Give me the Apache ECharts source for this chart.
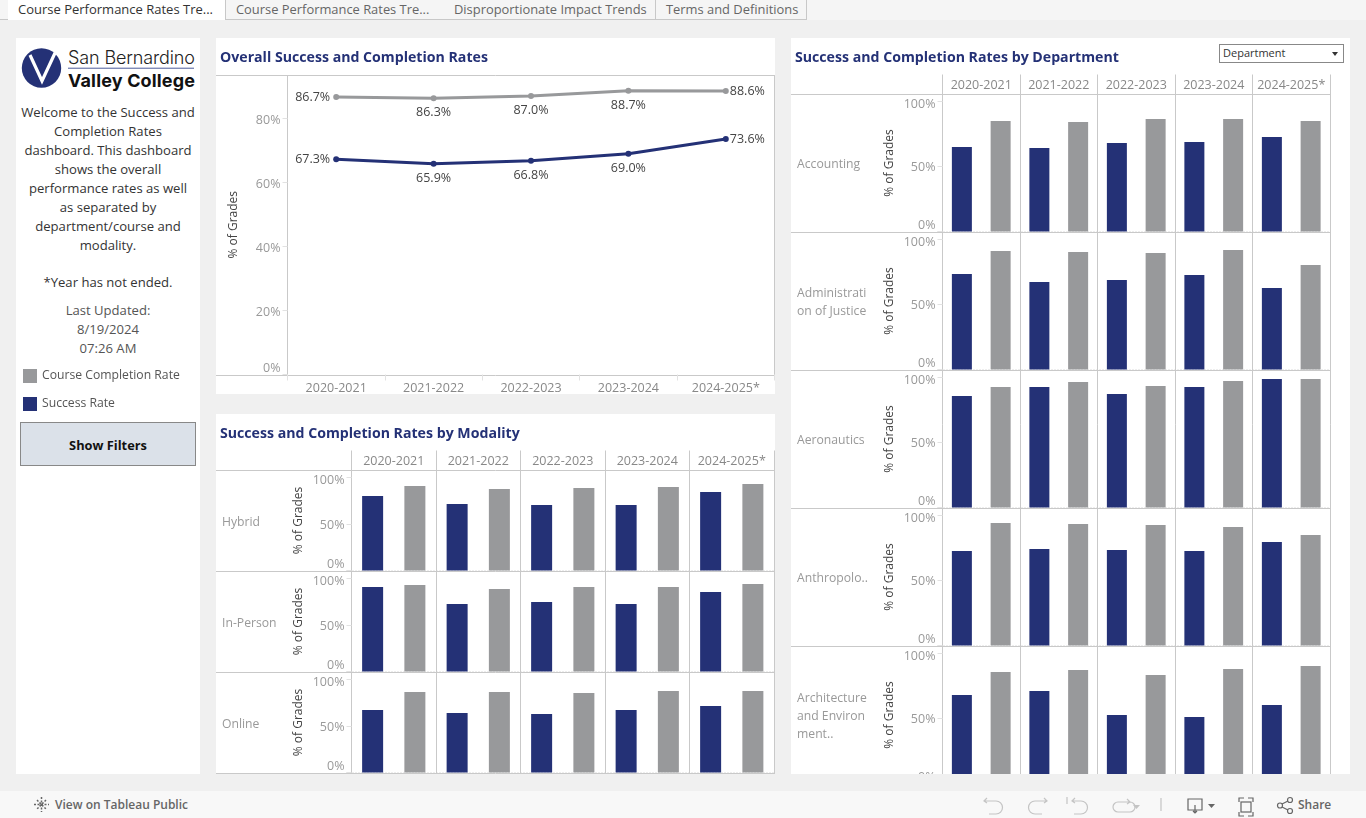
<!DOCTYPE html>
<html><head><meta charset="utf-8">
<script src="https://cdn.jsdelivr.net/npm/echarts@6/dist/echarts.min.js"></script>
<style>
html,body{margin:0;padding:0;width:1366px;height:818px;overflow:hidden;background:#f0f0f0;font-family:"Open Sans",sans-serif;color:#333}
.abs{position:absolute}
.panel{position:absolute;background:#fff}
#chart{position:absolute;left:0;top:0;width:1366px;height:818px}
.tab{position:absolute;top:0;height:19px;line-height:19px;font-size:12.9px;color:#666;background:#f5f5f5;border-right:1px solid #c8c8c8;border-bottom:1px solid #c8c8c8;padding-left:10px;box-sizing:content-box;white-space:nowrap;overflow:hidden}
#side{position:absolute;left:16px;top:103px;width:184px;text-align:center;font-size:13.1px;line-height:19px;color:#333;white-space:nowrap}
#btn{position:absolute;left:20px;top:422px;width:174px;height:42px;background:#dbe1e9;border:1px solid #888;text-align:center;line-height:45px;font-size:12.8px;font-weight:700;color:#111}
#dd{position:absolute;left:1219px;top:44px;width:123px;height:17px;border:1px solid #888;background:#fff;font-size:11px;line-height:16px;color:#333;text-indent:3px}
#dd i{position:absolute;right:5px;top:7px;width:0;height:0;border-left:3.5px solid transparent;border-right:3.5px solid transparent;border-top:4px solid #333}
#cover{position:absolute;left:0;top:774px;width:1366px;height:17px;background:#f0f0f0}
#foot{position:absolute;left:0;top:791px;width:1366px;height:27px;background:#f8f8f8;font-size:12px;color:#666;font-weight:600}
</style></head><body>
<div class="panel" style="left:16px;top:38px;width:184px;height:736px"></div>
<div class="panel" style="left:216px;top:38px;width:559px;height:356px"></div>
<div class="panel" style="left:216px;top:414px;width:559px;height:360px"></div>
<div class="panel" style="left:791px;top:38px;width:559px;height:736px"></div>
<div class="abs" style="left:0;top:0;width:1366px;height:20px;background:#f5f5f5;border-bottom:0"></div>
<div class="tab" style="left:226px;width:208px">Course Performance Rates Tre...</div>
<div class="tab" style="left:444px;width:201px">Disproportionate Impact Trends</div>
<div class="tab" style="left:656px;width:140px;">Terms and Definitions</div>
<div class="abs" style="left:0;top:19px;width:8px;height:1px;background:#c8c8c8"></div>
<div class="abs" style="left:8px;top:0;width:217px;height:20px;background:#fff;border-right:1px solid #c8c8c8;font-size:13px;line-height:19px;color:#333;text-indent:10px;white-space:nowrap;overflow:hidden">Course Performance Rates Tre...</div>
<svg class="abs" style="left:16px;top:38px" width="184" height="60" viewBox="16 38 184 60">
<circle cx="41.5" cy="68" r="19.7" fill="#243176"/>
<path d="M30 55 L42 81 L55 53" fill="none" stroke="#fff" stroke-width="3.2"/>
<text x="68" y="64" font-family="Inter" font-weight="300" font-size="18" textLength="127" lengthAdjust="spacing" fill="#222">San Bernardino</text>
<rect x="68" y="67.7" width="126" height="1" fill="#4a5a9a"/>
<text x="68" y="86.500" font-family="Inter" font-weight="700" font-size="18" textLength="127" lengthAdjust="spacing" fill="#111">Valley College</text>
</svg>
<div id="side">Welcome to the Success and<br>Completion Rates<br>dashboard. This dashboard<br>shows the overall<br>performance rates as well<br>as separated by<br>department/course and<br>modality.<div style="height:18px"></div>*Year has not ended.<div style="height:9px"></div><span style="color:#555">Last Updated:<br>8/19/2024<br>07:26 AM</span></div>
<div id="btn">Show Filters</div>
<div id="chart"></div>
<div id="dd">Department<i></i></div>
<div id="cover"></div>
<div id="foot">
<svg class="abs" style="left:33px;top:5px" width="18" height="18" fill="none" stroke="#666" stroke-width="1.5"><path d="M8.5 1v15M1 8.5h15M4 4l9 9M13 4l-9 9" stroke-dasharray="2 1.5"/></svg>
<span class="abs" style="left:55px;top:5px;white-space:nowrap">View on Tableau Public</span>
<svg class="abs" style="left:980px;top:2px" width="370" height="24" fill="none" stroke="#c4c4c4" stroke-width="1.2">
<path d="M7 5l-3 3 3 2M4 8h12a6 6 0 0 1 0 13h-7"/>
<path d="M64 5l3 3-3 2M67 8H55a6 6 0 0 0 0 13h7"/>
<path d="M87 4v7M95 5l-3 3 3 2M92 8h9a6 6 0 0 1 0 13h-7"/>
<path d="M138 9h12a3 3 0 0 1 0 10h-12a3 3 0 0 1 0-10zM147 6l3 3-3 2"/>
<path d="M153 12h7l-3.500 4z" fill="#c4c4c4" stroke="none"/>
<path d="M181 5v13"/>
<g stroke="#666"><path d="M208 6h14v11h-14zM215 12v8M213 18l2 2 2-2" /><path d="M228 11h7l-3.500 4z" fill="#666" stroke="none"/>
<rect x="261" y="9" width="10" height="10"/><path d="M259 9V5h5M273 9V5h-5M259 19v4h5M273 19v4h-5"/>
<circle cx="310" cy="7" r="2.500"/><circle cx="300" cy="12.500" r="2.500"/><circle cx="310" cy="18" r="2.500"/><path d="M302 11l6-3M302 14l6 3"/></g>
</svg>
<span class="abs" style="left:1298px;top:5px">Share</span>
</div>
<script>
const years = ['2020-2021','2021-2022','2022-2023','2023-2024','2024-2025*'];
const overallCompletion = [86.7,86.3,87.0,88.7,88.6];
const overallSuccess = [67.3,65.9,66.8,69.0,73.6];
const modalityNames = ['Hybrid','In-Person','Online'];
const modalitySuccess = [[80,71.5,70.4,70.4,84.4],[90.9,72.6,74.7,72.6,85.5],[67.2,64,62.9,67.2,71.5]];
const modalityCompletion = [[90.9,87.6,88.7,89.8,93],[93,88.7,90.9,90.9,94],[86.6,86.6,85.5,87.6,87.6]];
const departmentNames = ['Accounting','Administrati\non of Justice','Aeronautics','Anthropolo..','Architecture\nand Environ\nment..'];
const departmentSuccess = [[65,64.2,68.1,68.8,72.7],[73.5,67.3,68.8,72.7,62.7],[85.8,92.7,87.3,92.7,98.8],[72.7,74.2,73.5,72.7,79.6],[68.1,71.2,52.7,51.2,60.4]];
const departmentCompletion = [[85,84.2,86.5,86.5,85],[91.2,90.4,89.6,91.9,80.4],[92.7,96.5,93.5,97.3,98.8],[94.2,93.5,92.7,91.2,85],[85.8,87.3,83.5,88.1,90.4]];

const NAVY='#243176', GRAY='#98999b', RULE='#c9c9c9', FONT='"Open Sans",sans-serif';
const SUCCESS='Success Rate', COMPLETION='Course Completion Rate';
const grids=[],xAxes=[],yAxes=[],series=[],graphics=[];
const axisText={color:'#999',fontSize:12.5,fontFamily:FONT};
function hline(x1,x2,y){graphics.push({type:'line',silent:true,shape:{x1,y1:y,x2,y2:y},style:{stroke:RULE,lineWidth:1}});}
function vline(x,y1,y2){graphics.push({type:'line',silent:true,shape:{x1:x,y1,x2:x,y2},style:{stroke:RULE,lineWidth:1}});}

// overall line chart
grids.push({left:287.5,top:75,width:487,height:299.5});
xAxes.push({type:'category',gridIndex:0,data:years,boundaryGap:true,axisLine:{show:false},
  axisTick:{show:true,length:6,lineStyle:{color:'#e2e2e2'}},axisLabel:{...axisText,color:'#888',margin:7.5,interval:0}});
yAxes.push({type:'value',gridIndex:0,min:0,max:93.6,interval:20,name:'% of Grades',nameLocation:'middle',nameGap:48,
  nameTextStyle:{color:'#444',fontSize:12,fontFamily:FONT},
  axisLine:{show:false},splitLine:{show:false},axisTick:{show:true,length:5,lineStyle:{color:'#e2e2e2'},customValues:[0,20,40,60,80]},
  axisLabel:{...axisText,customValues:[0,20,40,60,80],formatter:v=>v===0?'0%':'{s|'+v+'%}',rich:{s:{...axisText,padding:[4,0,0,0]}},verticalAlignMinLabel:'bottom',margin:7}});
function linePos(i){return i===0?'left':(i===years.length-1?'right':'bottom');}
[[COMPLETION,overallCompletion,GRAY],[SUCCESS,overallSuccess,NAVY]].forEach(([name,vals,color])=>{
  series.push({type:'line',name,xAxisIndex:0,yAxisIndex:0,symbol:'circle',symbolSize:6,z:5,
    lineStyle:{color,width:3},itemStyle:{color},
    data:vals.map((v,i)=>({value:v,label:{show:true,position:linePos(i),distance:i===0?3:(i===4?1:5),
      formatter:p=>p.value.toFixed(1)+'%',color:'#444',fontSize:12.5,fontFamily:FONT}}))});
});
hline(216,775,75.5);hline(216,775,375.5);vline(287.5,75,376);vline(774.5,75,376);

// small-multiple facets
function facets(o){
  o.rows.forEach((rowName,r)=>{
    const top=o.top+r*o.rowH;
    years.forEach((yr,c)=>{
      const idx=grids.length;
      grids.push({left:o.left+c*o.colW,top,width:o.colW,height:o.plotH});
      xAxes.push({type:'category',gridIndex:idx,data:[SUCCESS,COMPLETION],boundaryGap:true,position:r===0?'top':'bottom',
        name:r===0?yr:'',nameLocation:'middle',nameGap:2.5,nameTextStyle:{color:'#888',fontSize:12.5,fontFamily:FONT},
        axisLabel:{show:false},axisTick:{show:false},axisLine:{show:false}});
      const first=c===0;
      yAxes.push({type:'value',gridIndex:idx,min:0,max:o.max,interval:50,show:first,
        name:first?'% of Grades':'',nameLocation:'middle',nameGap:o.nameGap,
        nameTextStyle:{color:'#444',fontSize:12,fontFamily:FONT},
        axisLine:{show:false},splitLine:{show:false},
        axisTick:{show:first,length:5,lineStyle:{color:'#e2e2e2'},customValues:[0,50,100]},
        axisLabel:{show:first,...axisText,margin:7,customValues:[0,50,100],verticalAlignMinLabel:'bottom',
          formatter:v=>v===100?'{t|100%}':(v===50?'{m|50%}':'{z|0%}'),
          rich:{t:{...axisText,padding:[o.shift,0,0,0]},m:{...axisText,padding:[2,0,0,0]},z:{...axisText,padding:[0,0,0,0]}}}});
      series.push({type:'bar',name:SUCCESS,xAxisIndex:idx,yAxisIndex:idx,barWidth:o.barW,barGap:'-100%',
        itemStyle:{color:NAVY},data:[o.success[r][c],null]});
      series.push({type:'bar',name:COMPLETION,xAxisIndex:idx,yAxisIndex:idx,barWidth:o.barW,barGap:'-100%',
        itemStyle:{color:GRAY},data:[null,o.completion[r][c]]});
    });
    hline(o.panelL,o.lineR,Math.floor(top)+.5);
    // dotted zero line
    graphics.push({type:'line',silent:true,shape:{x1:o.left-5,y1:top+o.plotH+.5,x2:o.left+5*o.colW,y2:top+o.plotH+.5},
      style:{stroke:'#bbb',lineWidth:1,lineDash:[1,2]}});
    graphics.push({type:'text',silent:true,style:{x:o.panelL+6,y:top+o.plotH/2+o.labelDy,text:rowName,fill:'#999',
      font:'12.2px '+FONT,lineHeight:18,textVerticalAlign:'middle',verticalAlign:'middle'}});
  });
  for(let c=0;c<=5;c++) vline(Math.floor(o.left+c*o.colW)+.5,o.top-20,o.bottom);
  hline(o.panelL,o.lineR,o.top+o.rows.length*o.rowH);
}
facets({rows:modalityNames,success:modalitySuccess,completion:modalityCompletion,left:351.5,colW:84.5,top:470.5,rowH:101,plotH:100,max:107.5,
  barW:21,nameGap:47,panelL:216,lineR:775,bottom:774,shift:6,labelDy:2});
facets({rows:departmentNames,success:departmentSuccess,completion:departmentCompletion,left:942.5,colW:77.5,top:94.5,rowH:138,plotH:137,max:105.4,
  barW:20,nameGap:47,panelL:791,lineR:1331,bottom:774,shift:6,labelDy:2});

const chart=echarts.init(document.getElementById('chart'),null,{renderer:'canvas',width:1366,height:818});
chart.setOption({
  animation:false,backgroundColor:'transparent',
  textStyle:{fontFamily:FONT},
  title:[
    {text:'Overall Success and Completion Rates',left:220,top:51},
    {text:'Success and Completion Rates by Modality',left:220,top:427},
    {text:'Success and Completion Rates by Department',left:795,top:51}
  ].map(t=>({...t,padding:0,textStyle:{color:NAVY,fontSize:14.15,fontWeight:700,fontFamily:FONT}})),
  legend:{orient:'vertical',left:23,top:369,itemWidth:14,itemHeight:14,itemGap:14,selectedMode:false,icon:'rect',padding:0,
    data:[COMPLETION,SUCCESS],textStyle:{color:'#555',fontSize:12.2,fontFamily:FONT,padding:[3,0,0,0]}},
  grid:grids,xAxis:xAxes,yAxis:yAxes,series,graphic:graphics
});
</script>
</body></html>
